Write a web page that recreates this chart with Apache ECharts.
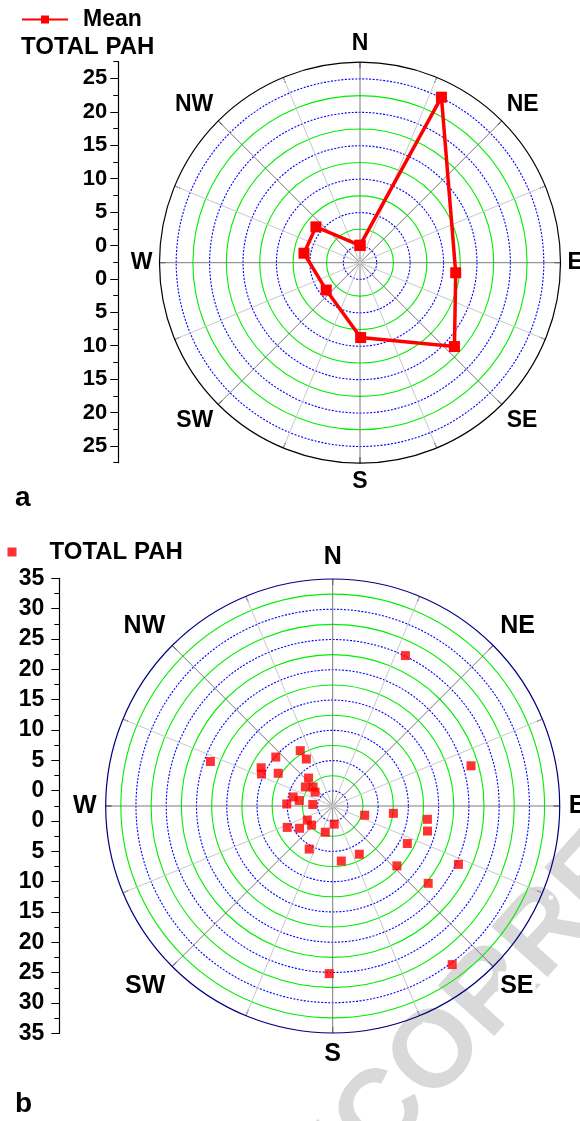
<!DOCTYPE html>
<html>
<head>
<meta charset="utf-8">
<script src="https://cdn.jsdelivr.net/npm/echarts@6/dist/echarts.min.js"></script>
<style>
html, body { margin: 0; padding: 0; background: #fff; }
#chart { width: 580px; height: 1121px; }
</style>
</head>
<body>
<div id="chart"></div>
<script>
// panel a: mean TOTAL PAH per wind sector (angle in degrees from N, value)
const meanAngle = [0, 26.2, 96, 131.6, 179.5, 231, 279.6, 309.1]
const meanValue = [0.1, 25.1, 11.9, 16.4, 8.7, 4.0, 6.0, 6.0]

// panel b: single samples
const pahAngle = [310.7, 298.1, 294.2, 301.0, 329.6, 330.7, 319.2, 304.9, 314.0, 308.3,
  282.9, 279.4, 272.5, 274.4, 240.9, 227.9, 244.8, 236.1, 175.3, 195.8,
  208.6, 171.1, 151.1, 106.1, 96.9, 98.0, 104.8, 116.7, 133.0, 129.0,
  114.9, 143.0, 181.2, 290.0, 25.8, 73.8]
const pahValue = [9.9, 10.9, 10.4, 8.0, 8.1, 6.4, 3.6, 3.0, 2.0, 1.2,
  4.2, 3.1, 5.1, 0.8, 2.3, 2.2, 5.8, 4.1, 0.5, 2.0,
  5.6, 6.7, 6.6, 3.0, 7.6, 13.3, 13.7, 11.3, 12.0, 17.8,
  20.4, 30.3, 25.2, 19.0, 25.1, 21.3]

const compass = ['N', 'NE', 'E', 'SE', 'S', 'SW', 'W', 'NW']

// left scales, bottom to top, mirrored around the centre of the rose
const aScaleLabels = ['', '25', '', '20', '', '15', '', '10', '', '5', '', '0', '',
  '0', '', '5', '', '10', '', '15', '', '20', '', '25', '']
const bScaleLabels = ['35', '', '30', '', '25', '', '20', '', '15', '', '10', '', '5', '', '0', '',
  '0', '', '5', '', '10', '', '15', '', '20', '', '25', '', '30', '', '35']

const FONT = '"Liberation Sans", Arial, Helvetica, sans-serif'
const RED = '#ff0000'
const GREEN = '#00ee00'
const BLUE = '#0000ff'
const NONE = 'rgba(0,0,0,0)'

const aCenter = [360, 262.7]
const aRadius = 200.5
const bCenter = [332.7, 806]
const bRadius = 227

function compassLabel(v) {
  if (v >= 360 || v % 45 !== 0) return ''
  return compass[v / 45]
}

// one colour per ring: solid green on odd multiples of 2.5, dotted blue on multiples of 5,
// nothing on the centre and on the outer border
function ringColors(max, color, onFives) {
  const out = []
  for (let v = -2.5; v <= max + 0.01; v += 2.5) {
    const five = Math.abs(v % 5) < 0.01
    const last = v > max - 0.01
    out.push(!last && v > -2.5 && five === onFives ? color : NONE)
  }
  return out
}

function angleAxis(idx, lineColor, fontSize, bg) {
  return {
    polarIndex: idx,
    type: 'value',
    min: 0,
    max: 360,
    interval: 22.5,
    startAngle: 90,
    clockwise: true,
    z: 1,
    axisLine: { lineStyle: { color: lineColor, width: 1.2 } },
    axisTick: { inside: true, length: 6, lineStyle: { color: '#000', width: 1 } },
    splitLine: { show: true, lineStyle: { color: ['#7a7a7a', '#c8c8c8'], width: 1 } },
    axisLabel: {
      margin: 7,
      formatter: compassLabel,
      color: '#000',
      fontSize: fontSize,
      fontWeight: 'bold',
      fontFamily: FONT,
      backgroundColor: bg,
      padding: bg ? 2 : 0
    }
  }
}

function hiddenAngle(idx) {
  return { polarIndex: idx, type: 'value', min: 0, max: 360, interval: 22.5, startAngle: 90, show: false }
}

function rings(idx, max, colors, type) {
  return {
    polarIndex: idx,
    type: 'value',
    min: -2.5,
    max: max,
    interval: 2.5,
    z: 0,
    axisLine: { show: false },
    axisTick: { show: false },
    axisLabel: { show: false },
    splitLine: { show: true, lineStyle: { color: colors, width: 1.1, type: type } }
  }
}

function scaleAxes(grid, labels, fontSize, margin) {
  return [
    {
      gridIndex: grid,
      type: 'category',
      data: labels,
      boundaryGap: false,
      position: 'left',
      axisLine: { lineStyle: { color: '#000', width: 1.2 } },
      axisTick: { length: 8, interval: (i) => labels[i] !== '', lineStyle: { color: '#000' } },
      axisLabel: { interval: 0, margin: margin, color: '#000', fontSize: fontSize, fontWeight: 'bold', fontFamily: FONT },
      splitLine: { show: false }
    },
    {
      gridIndex: grid,
      type: 'category',
      data: labels,
      boundaryGap: false,
      position: 'left',
      offset: 0,
      axisLine: { show: false },
      axisTick: { length: 5, interval: 0, lineStyle: { color: '#000' } },
      axisLabel: { show: false },
      splitLine: { show: false }
    }
  ]
}

const meanData = meanAngle.map((a, i) => [meanValue[i], a])
meanData.push(meanData[0])
const pahData = pahAngle.map((a, i) => [pahValue[i], a])

const chart = echarts.init(document.getElementById('chart'))

chart.setOption({
  backgroundColor: '#fff',
  animation: false,
  textStyle: { fontFamily: FONT },
  title: [
    { text: 'TOTAL PAH', left: 21, top: 35, padding: 0,
      textStyle: { fontSize: 24, fontWeight: 'bold', color: '#000', fontFamily: FONT } },
    { text: 'a', left: 15, top: 484, padding: 0,
      textStyle: { fontSize: 28, fontWeight: 'bold', color: '#000', fontFamily: FONT } },
    { text: 'b', left: 15, top: 1090, padding: 0,
      textStyle: { fontSize: 28, fontWeight: 'bold', color: '#000', fontFamily: FONT } }
  ],
  legend: [
    {
      data: ['Mean'],
      left: 21, top: 8, padding: 0,
      itemWidth: 46, itemHeight: 10,
      textStyle: { fontSize: 23, fontWeight: 'bold', color: '#000', fontFamily: FONT, padding: [0, 0, 0, 10] }
    },
    {
      data: ['TOTAL PAH'],
      left: 7.5, top: 540, padding: 0,
      itemWidth: 9, itemHeight: 9,
      textStyle: { fontSize: 24, fontWeight: 'bold', color: '#000', fontFamily: FONT, padding: [0, 0, 0, 28] }
    }
  ],
  graphic: [
    {
      type: 'text',
      x: 250, y: 1262,
      rotation: 48 * Math.PI / 180,
      z: -10,
      silent: true,
      style: { text: 'UNCORRECTED PROOF', fontSize: 110, fontWeight: 'bold', fontFamily: FONT, fill: '#d9d9d9', verticalAlign: 'middle' }
    }
  ],
  polar: [
    { center: aCenter, radius: aRadius },
    { center: aCenter, radius: aRadius },
    { center: bCenter, radius: bRadius },
    { center: bCenter, radius: bRadius }
  ],
  angleAxis: [
    angleAxis(0, '#000', 23),
    hiddenAngle(1),
    angleAxis(2, '#000080', 25, '#fff'),
    hiddenAngle(3)
  ],
  radiusAxis: [
    rings(0, 27.5, ringColors(27.5, GREEN, false), 'solid'),
    rings(1, 27.5, ringColors(27.5, BLUE, true), [2, 1.5]),
    rings(2, 35, ringColors(35, GREEN, false), 'solid'),
    rings(3, 35, ringColors(35, BLUE, true), [2, 1.5])
  ],
  grid: [
    { left: 118.3, top: 61.7, width: 20, height: 401, outerBoundsMode: 'none' },
    { left: 59.3, top: 578.3, width: 20, height: 455, outerBoundsMode: 'none' }
  ],
  xAxis: [
    { gridIndex: 0, type: 'value', show: false },
    { gridIndex: 1, type: 'value', show: false }
  ],
  yAxis: scaleAxes(0, aScaleLabels, 22, 11).concat(scaleAxes(1, bScaleLabels, 23, 15)),
  series: [
    {
      name: 'Mean',
      type: 'line',
      coordinateSystem: 'polar',
      polarIndex: 0,
      data: meanData,
      symbol: 'rect',
      symbolSize: 11,
      itemStyle: { color: RED },
      lineStyle: { color: RED, width: 3.5 },
      z: 5
    },
    {
      name: 'TOTAL PAH',
      type: 'scatter',
      coordinateSystem: 'polar',
      polarIndex: 2,
      data: pahData,
      symbol: 'rect',
      symbolSize: 9,
      itemStyle: { color: RED },
      z: 5
    }
  ]
})
</script>
</body>
</html>
